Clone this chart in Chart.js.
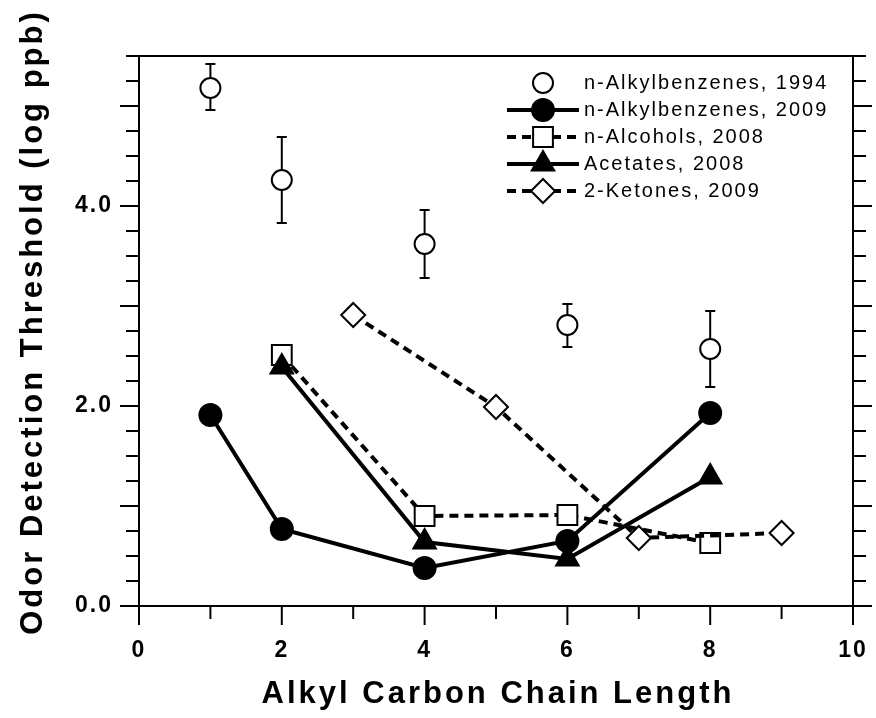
<!DOCTYPE html>
<html>
<head>
<meta charset="utf-8">
<script src="https://cdn.jsdelivr.net/npm/chart.js@4.4.1/dist/chart.umd.min.js"></script>
<style>
  html, body { margin: 0; padding: 0; background: #fff; }
  .wrap { width: 876px; height: 718px; }
</style>
</head>
<body>
<div class="wrap"><canvas id="chart"></canvas></div>
<script>
// values (log ppb)
const benz1994X = [1, 2, 4, 6, 8]
const benz1994Y = [5.18, 4.26, 3.62, 2.81, 2.57]
const benz1994Hi = [5.42, 4.69, 3.96, 3.02, 2.95]
const benz1994Lo = [4.96, 3.83, 3.28, 2.59, 2.19]

const benz2009X = [1, 2, 4, 6, 8]
const benz2009Y = [1.91, 0.77, 0.38, 0.65, 1.93]

const alcoholX = [2, 4, 6, 8]
const alcoholY = [2.51, 0.9, 0.91, 0.63]

const acetateX = [2, 4, 6, 8]
const acetateY = [2.39, 0.64, 0.47, 1.29]

const ketoneX = [3, 5, 7, 9]
const ketoneY = [2.91, 1.99, 0.68, 0.73]

const xLabelValues = [0, 2, 4, 6, 8, 10]
const yLabelValues = [0, 2, 4]

const xTitle = 'Alkyl Carbon Chain Length'
const yTitle = 'Odor Detection Threshold (log ppb)'

const toPoints = (xs, ys) => xs.map((x, i) => ({ x: x, y: ys[i] }))

const FONT = "'Liberation Sans', Arial, Helvetica, sans-serif"

function marker(ctx, style, r, x, y) {
  ctx.beginPath()
  if (style === 'circle') {
    ctx.arc(x, y, r, 0, Math.PI * 2)
  } else if (style === 'rect') {
    const s = Math.SQRT1_2 * r
    ctx.rect(x - s, y - s, 2 * s, 2 * s)
  } else if (style === 'triangle') {
    ctx.moveTo(x, y - r)
    ctx.lineTo(x + r * 0.866, y + r / 2)
    ctx.lineTo(x - r * 0.866, y + r / 2)
    ctx.closePath()
  } else if (style === 'rectRot') {
    ctx.moveTo(x - r, y)
    ctx.lineTo(x, y - r)
    ctx.lineTo(x + r, y)
    ctx.lineTo(x, y + r)
    ctx.closePath()
  }
  ctx.fill()
  ctx.stroke()
}

const figurePlugin = {
  id: 'figure',
  beforeDraw(chart) {
    chart.ctx.letterSpacing = '2px'
  },
  beforeDatasetsDraw(chart) {
    const ctx = chart.ctx
    const xs = chart.scales.x
    const ys = chart.scales.y
    ctx.save()
    ctx.strokeStyle = '#000'
    ctx.lineWidth = 2
    benz1994X.forEach((xv, i) => {
      const px = xs.getPixelForValue(xv)
      const top = ys.getPixelForValue(benz1994Hi[i])
      const bot = ys.getPixelForValue(benz1994Lo[i])
      ctx.beginPath()
      ctx.moveTo(px, top)
      ctx.lineTo(px, bot)
      ctx.moveTo(px - 5, top)
      ctx.lineTo(px + 5, top)
      ctx.moveTo(px - 5, bot)
      ctx.lineTo(px + 5, bot)
      ctx.stroke()
    })
    ctx.restore()
  },
  afterDraw(chart) {
    const ctx = chart.ctx
    const a = chart.chartArea
    const xs = chart.scales.x
    const ys = chart.scales.y
    ctx.save()
    ctx.strokeStyle = '#000'
    ctx.lineWidth = 2
    ctx.lineCap = 'butt'

    // frame
    ctx.beginPath()
    ctx.moveTo(a.left, a.top)
    ctx.lineTo(a.left, a.bottom)
    ctx.moveTo(a.right, a.top)
    ctx.lineTo(a.right, a.bottom)
    ctx.moveTo(a.left - 13, a.top)
    ctx.lineTo(a.right + 13, a.top)
    ctx.moveTo(a.left - 19, a.bottom)
    ctx.lineTo(a.right + 13, a.bottom)
    ctx.stroke()

    // ticks
    ctx.beginPath()
    xs.ticks.forEach((t) => {
      const px = xs.getPixelForValue(t.value)
      const len = t.value % 2 === 0 ? 19 : 13
      ctx.moveTo(px, a.bottom)
      ctx.lineTo(px, a.bottom + len)
    })
    ys.ticks.forEach((t) => {
      const py = ys.getPixelForValue(t.value)
      const len = t.value % 1 === 0 ? 19 : 13
      ctx.moveTo(a.left, py)
      ctx.lineTo(a.left - len, py)
      ctx.moveTo(a.right, py)
      ctx.lineTo(a.right + len, py)
    })
    ctx.stroke()

    // axis titles
    ctx.fillStyle = '#000'
    ctx.letterSpacing = '3px'
    ctx.font = 'bold 31px ' + FONT
    ctx.textAlign = 'center'
    ctx.textBaseline = 'alphabetic'
    ctx.fillText(xTitle, (a.left + a.right) / 2 + 2, 703)
    ctx.save()
    ctx.translate(42, 322)
    ctx.rotate(-Math.PI / 2)
    ctx.fillText(yTitle, 0, 0)
    ctx.restore()

    // legend
    ctx.letterSpacing = '2px'
    ctx.font = '20px ' + FONT
    ctx.textAlign = 'left'
    chart.data.datasets.forEach((ds, i) => {
      const y = 83 + i * 27
      if (ds.showLine !== false) {
        ctx.save()
        ctx.lineWidth = 4
        ctx.setLineDash(ds.borderDash || [])
        ctx.beginPath()
        ctx.moveTo(507, y)
        ctx.lineTo(579, y)
        ctx.stroke()
        ctx.restore()
      }
      ctx.save()
      ctx.fillStyle = ds.pointBackgroundColor
      ctx.lineWidth = ds.pointBorderWidth
      marker(ctx, ds.pointStyle, ds.pointRadius, 543, y)
      ctx.restore()
      ctx.fillText(ds.label, 584, y + 6)
    })
    ctx.restore()
  },
}

const lineSet = (label, xs, ys, style, radius, fill, dashed, showLine) => ({
  label: label,
  data: toPoints(xs, ys),
  showLine: showLine,
  borderColor: '#000',
  borderWidth: 4,
  borderDash: dashed ? [9, 6] : [],
  pointStyle: style,
  pointRadius: radius,
  pointBackgroundColor: fill,
  pointBorderColor: '#000',
  pointBorderWidth: 2,
  pointHoverRadius: radius,
  fill: false,
  tension: 0,
})

const datasets = [
  lineSet('n-Alkylbenzenes, 1994', benz1994X, benz1994Y, 'circle', 10, '#fff', false, false),
  lineSet('n-Alkylbenzenes, 2009', benz2009X, benz2009Y, 'circle', 11, '#000', false, true),
  lineSet('n-Alcohols, 2008', alcoholX, alcoholY, 'rect', 14, '#fff', true, true),
  lineSet('Acetates, 2008', acetateX, acetateY, 'triangle', 13, '#000', false, true),
  lineSet('2-Ketones, 2009', ketoneX, ketoneY, 'rectRot', 12, '#fff', true, true),
]
// acetates above alcohols
datasets[3].order = 1
datasets[2].order = 2

new Chart(document.getElementById('chart'), {
  type: 'line',
  data: { datasets: datasets },
  options: {
    responsive: true,
    maintainAspectRatio: false,
    devicePixelRatio: 1,
    animation: false,
    layout: { padding: { top: 56, right: 23, left: 0, bottom: 0 } },
    plugins: {
      legend: { display: false },
      tooltip: { enabled: false },
    },
    scales: {
      x: {
        type: 'linear',
        min: 0,
        max: 10,
        grid: { display: false, drawTicks: false },
        border: { display: false },
        ticks: {
          stepSize: 1,
          autoSkip: false,
          maxRotation: 0,
          padding: 31,
          color: '#000',
          font: { family: FONT, size: 23, weight: 'bold' },
          callback: (v) => (xLabelValues.includes(v) ? String(v) : ''),
        },
        afterFit: (scale) => {
          scale.height = 112
          scale.paddingLeft = 0
          scale.paddingRight = 0
        },
      },
      y: {
        type: 'linear',
        min: 0,
        max: 5.5,
        grid: { display: false, drawTicks: false },
        border: { display: false },
        ticks: {
          stepSize: 0.25,
          autoSkip: false,
          padding: 26,
          color: '#000',
          font: { family: FONT, size: 23, weight: 'bold' },
          callback: (v) => (yLabelValues.includes(v) ? v.toFixed(1) : ''),
        },
        afterFit: (scale) => {
          scale.width = 139
          scale.paddingTop = 0
          scale.paddingBottom = 0
        },
      },
    },
  },
  plugins: [figurePlugin],
})
</script>
</body>
</html>
